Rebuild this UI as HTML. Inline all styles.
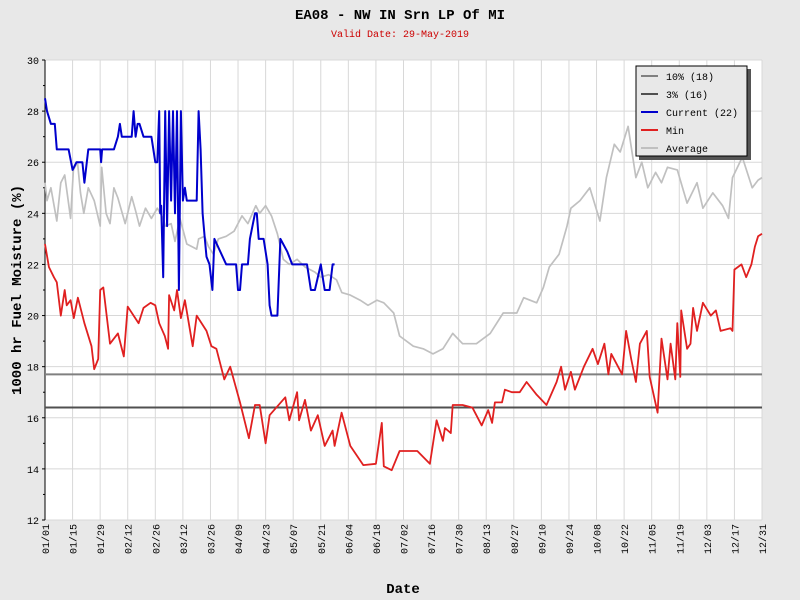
<!DOCTYPE html>
<html><head><meta charset="utf-8"><style>
body{margin:0;background:#e8e8e8;}
svg{display:block;font-family:"Liberation Mono","DejaVu Sans Mono",monospace;}
</style></head><body>
<svg id="chart" width="800" height="600">
<rect x="0" y="0" width="800" height="600" fill="#e8e8e8"/>
<text x="400" y="19" text-anchor="middle" font-size="14" font-weight="bold">EA08 - NW IN Srn LP Of MI</text>
<text x="400" y="37" text-anchor="middle" font-size="10" fill="#cc0000">Valid Date: 29-May-2019</text>
<text transform="translate(21,290) rotate(-90)" text-anchor="middle" font-size="14" font-weight="bold">1000 hr Fuel Moisture (%)</text>
<text x="403" y="593" text-anchor="middle" font-size="14" font-weight="bold">Date</text>
<g id="plot"></g>
</svg>
<script>
const yTicks=[12,14,16,18,20,22,24,26,28,30];
const xTickDays=[0,14,28,42,56,70,84,98,112,126,140,154,168,182,196,210,224,238,252,266,280,294,308,322,336,350,364];
const xTickLabels=["01/01","01/15","01/29","02/12","02/26","03/12","03/26","04/09","04/23","05/07","05/21","06/04","06/18","07/02","07/16","07/30","08/13","08/27","09/10","09/24","10/08","10/22","11/05","11/19","12/03","12/17","12/31"];
const pct10=17.7, pct3=16.4;
const curDays=[0,1,3,5,6,12,14,16,19,20,22,28,28.5,29,35,37,38,39,44,45,46,47,48,50,54,56,57,58,58.5,59,60,61,62,63,64,65,66,67,68,69,70,71,72,75,77,78,79,80,81,82,83.5,85,86,92,97,98,99,100,103,104,106.6,107.5,108.5,111,113,114,115,118,119.5,123,125.5,133,135,137,140,141,142,144.5,146,147];
const curVals=[28.5,28.0,27.5,27.5,26.5,26.5,25.7,26,26,25.2,26.5,26.5,26,26.5,26.5,27.0,27.5,27.0,27,28,27,27.5,27.5,27,27,26,26,28,24,24.3,21.5,28,23.5,28,24.5,28,24,28,21.0,28,24.5,25,24.5,24.5,24.5,28,26.5,24,23.1,22.3,22.0,21.0,23.0,22,22,21,21,22,22,23,24,24,23,23,22,20.4,20.0,20.0,23,22.5,22,22,21,21,22,21.5,21,21,22,22];
const avgDays=[0,1,3,6,8,10,13,14.4,16.5,18,19.7,22,25,28,28.8,31,33,35,37,40.7,44,46,48,51,54,57,60,61,64,66,68.5,72,77,78,81,83,85.5,88,92,96,100,103,107,109,112,115,118,121,124,128,132,137,140,144,148,150.7,155,160,164,168.5,172,177,180,187,192,197,202,207,212,219,226,232.6,239.5,243,249.6,253,256,261,265,267,271.6,276.6,281.7,285,289,292,296,300,303,306,310,313,316,321,326,331,334,339,344,347,349,354,359,362,364];
const avgVals=[25.2,24.5,25,23.7,25.2,25.5,23.8,25.7,26.0,24.8,24.0,25,24.5,23.5,25.8,24,23.6,25,24.6,23.6,24.65,24.1,23.5,24.2,23.8,24.2,23.8,23.5,23.6,22.9,23.8,22.8,22.6,23.0,23.1,22.7,22.4,23.0,23.1,23.3,23.9,23.6,24.3,24.0,24.3,23.9,23.2,22.2,22.0,22.2,21.9,21.7,21.5,21.6,21.4,20.9,20.8,20.6,20.4,20.6,20.5,20.1,19.2,18.8,18.7,18.5,18.7,19.3,18.9,18.9,19.3,20.1,20.1,20.7,20.5,21.1,21.9,22.4,23.5,24.2,24.5,25.0,23.7,25.4,26.7,26.4,27.4,25.4,26,25.0,25.6,25.2,25.8,25.7,24.4,25.2,24.2,24.8,24.3,23.8,25.4,26.2,25.0,25.3,25.4];
const minDays=[0,2,4.5,6,8,10,11,13,14.6,16.7,20,23.6,25,27,28,29.6,33,37,40,42,47.5,50,53.6,56,58,60.8,62.5,63,65.6,67,69,71,75,77,82,84.5,87,91,94,99,103.5,106.6,109,112,114,122,124,128,129,132,135,138.5,142,146,147,150.6,155,161.6,168,171,172,176,180,184,189,195.4,198.8,202,203,206,207,212,217,221.7,225,227,228.4,232,233.5,237,241,244.5,249.6,254.6,259.7,262,264,267,269,273.6,278,280.7,284,286,287.5,293,295,297.6,300,302,305.5,307,311,313,316,317.6,320,321,322.5,323,326,327.7,329,331,334,338,340.6,343,348,349,350,353.6,356,358.6,360.4,362,364];
const minVals=[22.8,21.9,21.5,21.3,20.0,21.0,20.4,20.6,19.9,20.7,19.7,18.8,17.9,18.3,21.0,21.1,18.9,19.3,18.4,20.35,19.7,20.3,20.5,20.4,19.7,19.2,18.7,20.8,20.2,21.0,19.9,20.6,18.8,20.0,19.4,18.8,18.7,17.5,18.0,16.6,15.2,16.5,16.5,15.0,16.1,16.8,15.9,17.0,15.9,16.7,15.5,16.1,14.9,15.5,14.9,16.2,14.9,14.15,14.2,15.8,14.1,13.95,14.7,14.7,14.7,14.2,15.9,15.1,15.6,15.4,16.5,16.5,16.4,15.7,16.3,15.8,16.6,16.6,17.1,17.0,17.0,17.4,16.9,16.5,17.4,18.0,17.1,17.8,17.1,18.0,18.7,18.1,18.9,17.7,18.5,17.7,19.4,18.3,17.4,18.9,19.4,17.6,16.2,19.1,17.5,18.9,17.5,19.7,17.6,20.2,18.7,18.9,20.3,19.4,20.5,20.0,20.2,19.4,19.5,19.4,21.8,22.0,21.5,22.0,22.7,23.1,23.2];

const X0=45,X1=762,Y0=520,Y1=60;
const xS=d=>X0+d*(X1-X0)/364;
const yS=v=>Y0-(v-12)*(Y0-Y1)/18;
const NS="http://www.w3.org/2000/svg";
const plot=document.getElementById('plot');
function mk(tag,attrs,parent){const e=document.createElementNS(NS,tag);for(const k in attrs)e.setAttribute(k,attrs[k]);(parent||plot).appendChild(e);return e;}
const pa=mk('rect',{x:X0,y:Y1,width:X1-X0,height:Y0-Y1,fill:'#fff'});


yTicks.forEach(v=>{
  const g=mk('line',{x1:X0,x2:X1,y1:yS(v),y2:yS(v),stroke:'#d8d8d8','stroke-width':1});
  
  
  const t=mk('text',{x:X0-6,y:yS(v)+4,'text-anchor':'end','font-size':10});
  t.textContent=v;
  
  
  const tk=mk('line',{x1:X0-3,x2:X0,y1:yS(v),y2:yS(v),stroke:'#000'});
  
  
});
[13,15,17,19,21,23,25,27,29].forEach(v=>{
  const tk=mk('line',{x1:X0-2,x2:X0,y1:yS(v),y2:yS(v),stroke:'#000'});
  
  
});
xTickDays.forEach((d,i)=>{
  const g=mk('line',{x1:xS(d),x2:xS(d),y1:Y1,y2:Y0,stroke:'#d8d8d8','stroke-width':1});
  
  
  const t=mk('text',{transform:`translate(${xS(d)+4},${Y0+4}) rotate(-90)`,'text-anchor':'end','font-size':10});
  t.textContent=xTickLabels[i];
  
  
});
const ax=mk('line',{x1:X0,x2:X0,y1:Y1,y2:Y0,stroke:'#000'});


function hline(v,col,name){const l=mk('line',{x1:X0,x2:X1,y1:yS(v),y2:yS(v),stroke:col,'stroke-width':2});
  
  }
hline(pct10,'#808080','line-10-percent');
hline(pct3,'#505050','line-3-percent');
function series(days,vals,col,name,w){
  const p=mk('polyline',{points:days.map((d,i)=>xS(d).toFixed(1)+','+yS(vals[i]).toFixed(1)).join(' '),fill:'none',stroke:col,'stroke-width':w,'stroke-linejoin':'round'});
  
  
}
series(avgDays,avgVals,'#c0c0c0','average-series',1.7);
series(minDays,minVals,'#e02020','min-series',1.8);
series(curDays,curVals,'#0000cc','current-series',2);
const lg=mk('g',{});


mk('rect',{x:639,y:69,width:112,height:91,fill:'#555'},lg);
mk('rect',{x:636,y:66,width:111,height:90,fill:'#e8e8e8',stroke:'#000','stroke-width':1},lg);
const leg=[["10% (18)","#808080"],["3% (16)","#505050"],["Current (22)","#0000cc"],["Min","#e02020"],["Average","#c0c0c0"]];
leg.forEach((e,i)=>{
  const y=76+i*18;
  const l=mk('line',{x1:641,x2:658,y1:y,y2:y,stroke:e[1],'stroke-width':2},lg);
  
  
  const t=mk('text',{x:666,y:y+4,'font-size':10},lg);
  t.textContent=e[0];
  
  
});
</script>
</body></html>
